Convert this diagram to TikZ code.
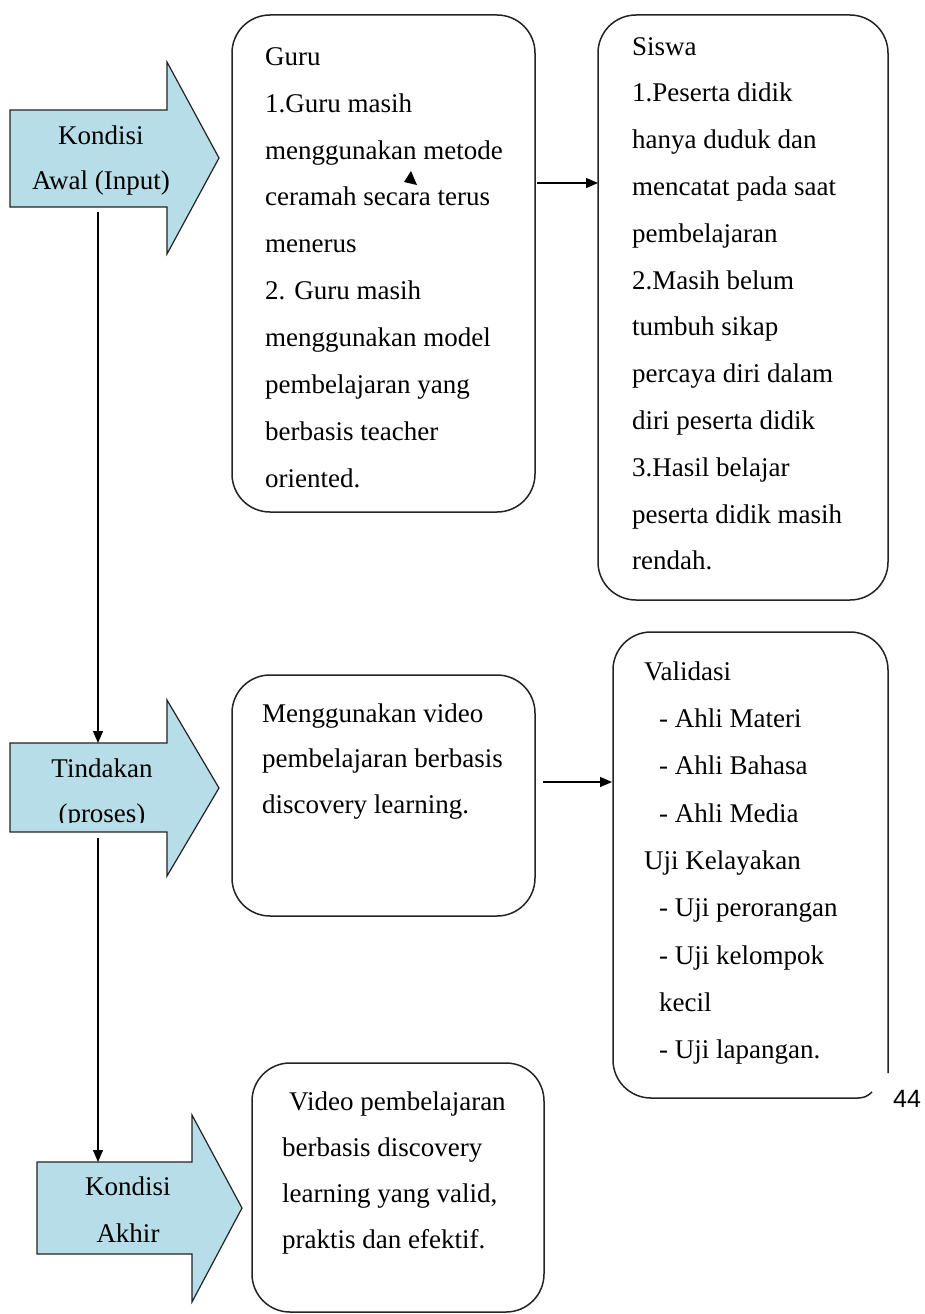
\documentclass[tikz,border=0pt]{standalone}
\usepackage{fontspec}
\setmainfont{Liberation Serif}
\newfontfamily\numfont{Liberation Sans}
\usetikzlibrary{arrows.meta}
\definecolor{arrowblue}{RGB}{183,221,232}
\definecolor{edgecol}{RGB}{35,35,35}
\begin{document}
\begin{tikzpicture}[x=1pt,y=-1pt,
  box/.style={draw=edgecol,line width=1.5pt,rounded corners=38pt,inner sep=0pt,outer sep=0pt},
  txt/.style={anchor=north west,inner sep=0pt,align=left},
  blk/.style={draw=edgecol,line width=1.2pt,fill=arrowblue,line join=miter},
  lbl/.style={anchor=north,inner sep=0pt,align=center},
  conn/.style={draw=black,line width=1.3pt,-{Triangle[length=12pt,width=10pt]}}]
\useasboundingbox (0,0) rectangle (924,1314);

% ---------- block arrows ----------
\draw[blk] (10,110) -- (167,110) -- (167,62) -- (219,158) -- (167,254) -- (167,207) -- (10,207) -- cycle;
\node[lbl,font=\fontsize{27}{45}\selectfont] (k1) at (101,113) {\strut Kondisi\\Awal (Input)};
\coordinate (k1b) at (98,212);

\draw[blk] (10,743) -- (167,743) -- (167,700) -- (219,788) -- (167,876) -- (167,832) -- (10,832) -- cycle;
\coordinate (k2t) at (98,743);
\coordinate (k2b) at (98,838);
\begin{scope}
  \clip (11,744) rectangle (166,822);
  \node[lbl,font=\fontsize{27}{45}\selectfont] (k2) at (102,746) {\strut Tindakan\\(proses)};
\end{scope}

\draw[blk] (37,1162) -- (192,1162) -- (192,1115) -- (242,1208) -- (192,1302) -- (192,1254) -- (37,1254) -- cycle;
\node[lbl,font=\fontsize{27}{47}\selectfont] (k3) at (128,1162) {\strut Kondisi\\Akhir};
\coordinate (k3t) at (98,1162);

\draw[conn] (k1b) -- (k2t);
\draw[conn] (k2b) -- (k3t);

% ---------- boxes ----------
\node[box,minimum width=303pt,minimum height=497pt] (guru) at (383.5,263.5) {};
\node[txt,font=\fontsize{27}{46.9}\selectfont] (gurut) at (265,32.2) {\strut Guru\\1.Guru masih\\menggunakan metode\\ceramah secara terus\\menerus\\2. Guru masih\\menggunakan model\\pembelajaran yang\\berbasis teacher\\oriented.};
\fill[black] (404,182) -- (411,171) -- (417,185) -- cycle;

\node[box,minimum width=290pt,minimum height=585pt] (siswa) at (743,307.5) {};
\node[txt,font=\fontsize{27}{46.8}\selectfont] (siswat) at (632,22.2) {\strut Siswa\\1.Peserta didik\\hanya duduk dan\\mencatat pada saat\\pembelajaran\\2.Masih belum\\tumbuh sikap\\percaya diri dalam\\diri peserta didik\\3.Hasil belajar\\peserta didik masih\\rendah.};

\coordinate (g1) at (537,183);
\coordinate (s1) at (598,183);
\draw[conn] (g1) -- (s1);

\node[box,minimum width=303pt,minimum height=241pt] (meng) at (383.5,795.5) {};
\node[txt,font=\fontsize{27}{45.5}\selectfont] (mengt) at (262,690) {\strut Menggunakan video\\pembelajaran berbasis\\discovery learning.};

% validasi box (open bottom-right corner)
\draw[draw=edgecol,line width=1.5pt,rounded corners=38pt] (888,1073) -- (888,632) -- (613,632) -- (613,1098) -- (858,1098);
\draw[draw=edgecol,line width=1.5pt] (858,1098) .. controls (864,1098) and (868,1096) .. (872,1092);
\coordinate (v1) at (612,782);
\coordinate (m1) at (543,782);
\draw[conn] (m1) -- (v1);
\node[txt,font=\fontsize{27}{47.3}\selectfont] (valt) at (644,646.9) {\strut Validasi\\\hspace*{15pt}- Ahli Materi\\\hspace*{15pt}- Ahli Bahasa\\\hspace*{15pt}- Ahli Media\\Uji Kelayakan\\\hspace*{15pt}- Uji perorangan\\\hspace*{15pt}- Uji kelompok\\\hspace*{15pt}kecil\\\hspace*{15pt}- Uji lapangan.};

\node[box,minimum width=292pt,minimum height=249pt] (video) at (398,1187.5) {};
\node[txt,font=\fontsize{27}{46}\selectfont] (videot) at (282,1077.8) {\strut\hspace*{7pt}Video pembelajaran\\berbasis discovery\\learning yang valid,\\praktis dan efektif.};

\node[inner sep=0pt,font=\numfont\fontsize{25}{25}\selectfont] (pg) at (907,1099) {44};
\end{tikzpicture}
\end{document}
